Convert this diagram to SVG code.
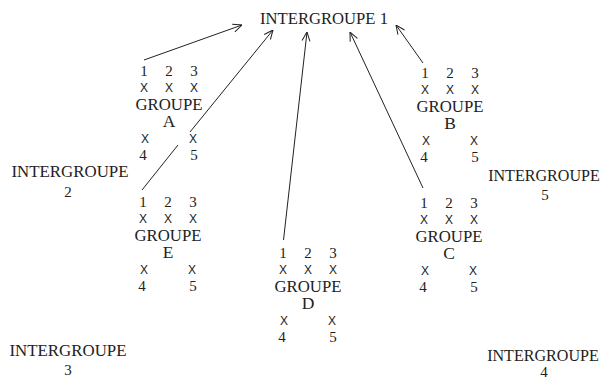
<svg xmlns="http://www.w3.org/2000/svg" width="603" height="379" viewBox="0 0 603 379">
<defs>
<style>
text{font-family:"Liberation Serif","Times New Roman",serif;font-size:17.5px;fill:#222;text-anchor:middle}
.x{font-family:"Liberation Sans",Arial,sans-serif;font-size:12px}
.num{font-size:15px}
.conn line{stroke:#222;stroke-width:1;fill:none}
</style>
<marker id="arr" viewBox="0 0 10 10" refX="10" refY="5" markerWidth="10" markerHeight="10" markerUnits="userSpaceOnUse" orient="auto">
<path d="M1,1 L10,5 L1,9" fill="none" stroke="#222" stroke-width="1"/>
</marker>
<g id="grp">
<text class="num" x="-25" y="0">1</text>
<text class="num" x="0" y="0">2</text>
<text class="num" x="25" y="0">3</text>
<text class="x" x="-25" y="16">X</text>
<text class="x" x="0" y="16">X</text>
<text class="x" x="25" y="16">X</text>
<text x="0" y="34" textLength="67" lengthAdjust="spacingAndGlyphs">GROUPE</text>
<text class="x" x="-24" y="67">X</text>
<text class="x" x="24" y="67">X</text>
<text class="num" x="-26" y="84">4</text>
<text class="num" x="25" y="84">5</text>
</g>
</defs>

<g id="intergroupe-1"><text x="324" y="24" textLength="128" lengthAdjust="spacingAndGlyphs">INTERGROUPE 1</text></g>
<g id="intergroupe-2"><text x="70" y="177" textLength="117" lengthAdjust="spacingAndGlyphs">INTERGROUPE</text><text class="num" x="68" y="197">2</text></g>
<g id="intergroupe-3"><text x="68" y="356" textLength="117" lengthAdjust="spacingAndGlyphs">INTERGROUPE</text><text class="num" x="68" y="375">3</text></g>
<g id="intergroupe-4"><text transform="translate(543,361) scale(0.92,1)" x="0" y="0">INTERGROUPE</text><text class="num" x="544" y="377">4</text></g>
<g id="intergroupe-5"><text transform="translate(544,181) scale(0.92,1)" x="0" y="0">INTERGROUPE</text><text class="num" x="545" y="200">5</text></g>

<g id="groupe-a" transform="translate(169,76)"><use href="#grp"/><text x="0" y="51">A</text></g>
<g id="groupe-b" transform="translate(450,78)"><use href="#grp"/><text x="0" y="51">B</text></g>
<g id="groupe-e" transform="translate(168,207)"><use href="#grp"/><text x="0" y="51">E</text></g>
<g id="groupe-c" transform="translate(449,208)"><use href="#grp"/><text x="0" y="51">C</text></g>
<g id="groupe-d" transform="translate(308,258)"><use href="#grp"/><text x="0" y="51">D</text></g>

<g id="connectors" class="conn">
<line x1="144" y1="60" x2="242" y2="25" marker-end="url(#arr)"/>
<line x1="142" y1="190" x2="178" y2="145"/>
<line x1="190" y1="132" x2="273" y2="30" marker-end="url(#arr)"/>
<line x1="283.5" y1="240" x2="307" y2="32" marker-end="url(#arr)"/>
<line x1="423" y1="188" x2="350" y2="32" marker-end="url(#arr)"/>
<line x1="423" y1="63" x2="396" y2="25" marker-end="url(#arr)"/>
</g>
</svg>
